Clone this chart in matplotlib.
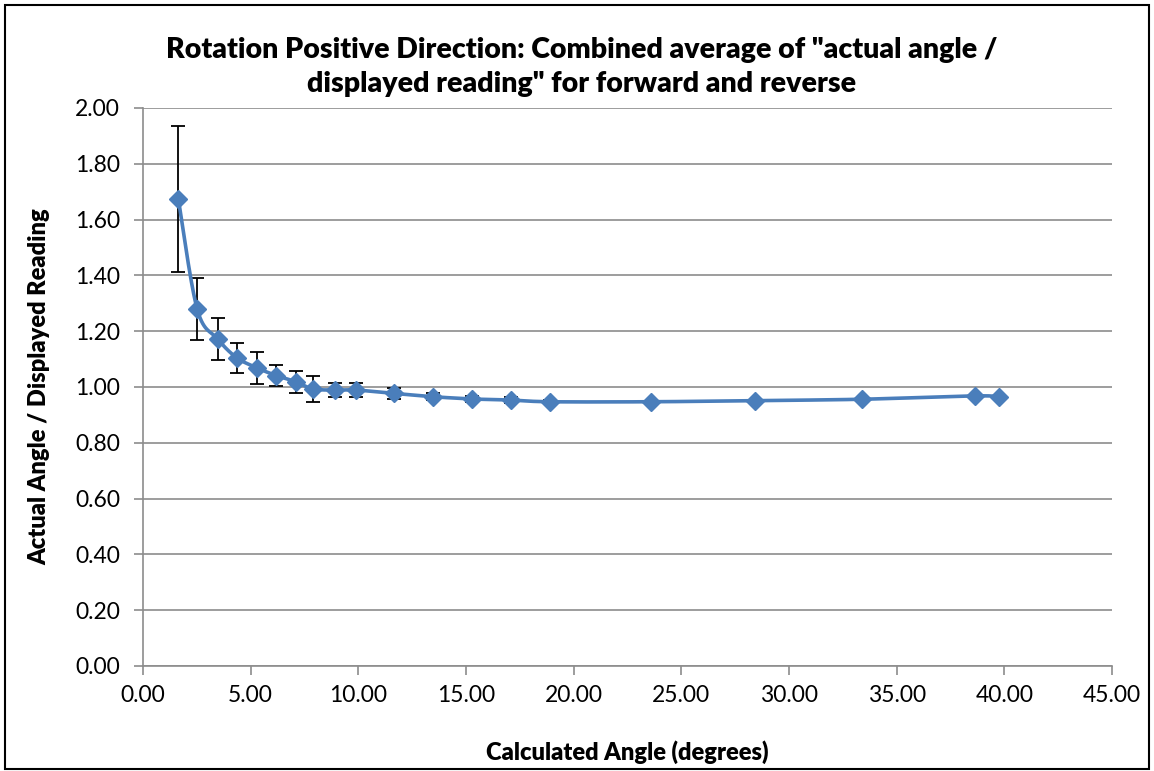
import numpy as np
import matplotlib.pyplot as plt
from matplotlib.patches import Rectangle

# data
angle = [1.64, 2.52, 3.47, 4.35, 5.28, 6.18, 7.09, 7.88, 8.90, 9.88, 11.67,
         13.48, 15.30, 17.09, 18.90, 23.58, 28.43, 33.38, 38.64, 39.76]
ratio = [1.674, 1.278, 1.172, 1.105, 1.069, 1.041, 1.019, 0.993, 0.989, 0.989, 0.977,
         0.965, 0.957, 0.953, 0.947, 0.947, 0.951, 0.956, 0.968, 0.964]
err = [0.262, 0.111, 0.075, 0.054, 0.058, 0.039, 0.039, 0.048, 0.024, 0.024, 0.020,
       0.012, 0.010, 0.010, 0.008, 0.004, 0.004, 0.004, 0.004, 0.004]

xticks = np.arange(0, 45.01, 5)
yticks = np.arange(0, 2.001, 0.2)

blue = '#4A7EBB'


def smooth(x, y, n=30):
    # Catmull-Rom curve through the points (like Excel "smoothed line")
    x = np.asarray(x, float)
    y = np.asarray(y, float)
    px = np.concatenate([[x[0]], x, [x[-1]]])
    py = np.concatenate([[y[0]], y, [y[-1]]])
    outx, outy = [], []
    t = np.linspace(0, 1, n)
    for i in range(1, len(px) - 2):
        for p, out in ((px, outx), (py, outy)):
            p0, p1, p2, p3 = p[i - 1], p[i], p[i + 1], p[i + 2]
            m1 = (p2 - p0) / 2
            m2 = (p3 - p1) / 2
            h00 = 2 * t**3 - 3 * t**2 + 1
            h10 = t**3 - 2 * t**2 + t
            h01 = -2 * t**3 + 3 * t**2
            h11 = t**3 - t**2
            out.extend(h00 * p1 + h10 * m1 + h01 * p2 + h11 * m2)
    return outx, outy


plt.rcParams['font.family'] = ['Lato', 'DejaVu Sans']

fig = plt.figure(figsize=(11.54, 7.71), dpi=100)
ax = fig.add_axes([0.1239, 0.1362, 0.8397, 0.7238])

ax.errorbar(angle, ratio, yerr=err, fmt='none', ecolor='black', elinewidth=1.3,
            capsize=5, capthick=1.3, zorder=3)
sx, sy = smooth(angle, ratio)
ax.plot(sx, sy, color=blue, lw=2.6, zorder=4)
ax.plot(angle, ratio, linestyle='none', marker='D', markersize=9, color=blue, zorder=5)

ax.set_xlim(0, 45)
ax.set_ylim(0, 2)
ax.set_xticks(xticks)
ax.set_yticks(yticks)
ax.set_xticklabels(['%.2f' % v for v in xticks], fontsize=16.5)
ax.set_yticklabels(['%.2f' % v for v in yticks], fontsize=16.5)
ax.grid(axis='y', color='#8c8c8c', lw=1.2)
ax.set_axisbelow(True)
for s in ['top', 'right']:
    ax.spines[s].set_visible(False)
for s in ['left', 'bottom']:
    ax.spines[s].set_color('#8c8c8c')
    ax.spines[s].set_linewidth(1.2)
ax.tick_params(direction='out', length=6.5, color='#8c8c8c', width=1.2)
ax.tick_params(axis='y', pad=10)
ax.tick_params(axis='x', pad=7)

ax.set_xlabel('Calculated Angle (degrees)', fontsize=17, fontweight='heavy', labelpad=25)
ax.set_ylabel('Actual Angle / Displayed Reading', fontsize=17, fontweight='heavy', labelpad=18)
fig.text(0.504, 0.913, 'Rotation Positive Direction: Combined average of "actual angle /\n'
         'displayed reading" for forward and reverse', ha='center', va='center',
         fontsize=20.5, fontweight='heavy', linespacing=1.4)

fig.patches.append(Rectangle((0.004, 0.003), 0.992, 0.99, transform=fig.transFigure,
                             fill=False, edgecolor='black', lw=1.5))

fig.savefig('out.png', dpi=100)
